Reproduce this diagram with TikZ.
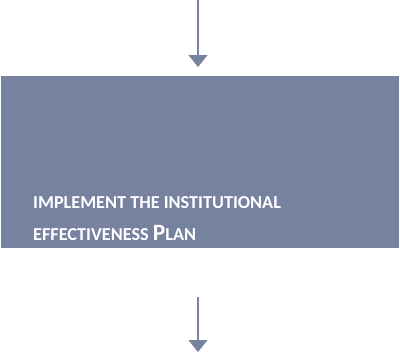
\documentclass[tikz,border=0pt]{standalone}
\usepackage{fontspec}
\setmainfont{Carlito}
\usetikzlibrary{arrows.meta}
\definecolor{slate}{RGB}{118,130,160}
\newcommand{\smc}[1]{{\fontsize{18.3}{22}\selectfont #1}}
\newcommand{\bigc}[1]{{\fontsize{23.5}{28}\selectfont #1}}
\tikzset{
  flow/.style={draw=slate, line width=1.4bp, -{Triangle[width=19bp,length=12bp]}},
  label/.style={text=white, font=\bfseries, anchor=base west, inner sep=0pt}
}
\begin{document}
\begin{tikzpicture}[x=1bp,y=-1bp]
\useasboundingbox (0,0) rectangle (400,356);
\fill[slate] (1,76) rectangle (399,248);
\node[coordinate] (s1) at (198,0) {};
\node[coordinate] (e1) at (198,67) {};
\node[coordinate] (s2) at (198,297) {};
\node[coordinate] (e2) at (198,352) {};
\draw[flow] (s1) -- (e1);
\draw[flow] (s2) -- (e2);
\node[label] (l1) at (33,208) {\smc{IMPLEMENT THE INSTITUTIONAL}};
\node[label] (l2) at (33,240) {\smc{EFFECTIVENESS }\bigc{P}\smc{LAN}};
\end{tikzpicture}
\end{document}
